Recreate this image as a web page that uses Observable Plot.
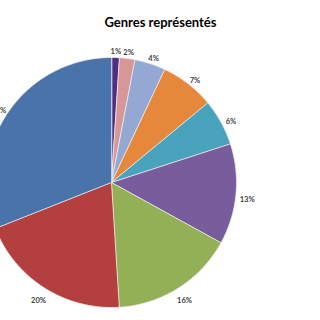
<!DOCTYPE html>
<html>
<head>
<meta charset="utf-8">
<script src="https://cdn.jsdelivr.net/npm/d3@7"></script>
<script src="https://cdn.jsdelivr.net/npm/@observablehq/plot@0.6"></script>
<style>
  html, body { margin: 0; padding: 0; background: #fff; }
  #chart svg { display: block; }
</style>
</head>
<body>
<div id="chart"></div>
<script>
// Data (clockwise from 12 o'clock)
const genres = ["G1", "G2", "G3", "G4", "G5", "G6", "G7", "G8", "G9"];
const shares = [1, 2, 4, 7, 6, 13, 16, 20, 31];
const labels = ["1%", "2%", "4%", "7%", "6%", "13%", "16%", "20%", "31%"];
const colors = ["#4f2d80", "#d69796", "#93a9d4", "#e6883c", "#4aa3bc", "#785c9c", "#93b056", "#b3403e", "#4a73aa"];
const title = "Genres représentés";

const W = 320, H = 320;
const cx = 111, cy = 182, R = 125;

const pie = d3.pie().sort(null).value(d => d)(shares);
const polys = [];
pie.forEach((p, i) => {
  polys.push({g: genres[i], x: 0, y: 0});
  const n = Math.max(4, Math.ceil((p.endAngle - p.startAngle) / 0.01));
  for (let k = 0; k <= n; k++) {
    const a = p.startAngle + (p.endAngle - p.startAngle) * k / n;
    polys.push({g: genres[i], x: Math.sin(a), y: Math.cos(a)});
  }
});
const lab = pie.map((p, i) => {
  const a = (p.startAngle + p.endAngle) / 2;
  return {t: labels[i], x: 1.09 * Math.sin(a), y: 1.08 * Math.cos(a) - 0.035};
});

const chart = Plot.plot({
  width: W, height: H,
  margin: 0,
  x: {domain: [-cx / R, (W - cx) / R], range: [0, W], axis: null},
  y: {domain: [-(H - cy) / R, cy / R], range: [H, 0], axis: null},
  color: {domain: genres, range: colors},
  style: {fontFamily: "Lato, sans-serif", background: "#fff"},
  marks: [
    Plot.line(polys, {x: "x", y: "y", z: "g", fill: "g", stroke: "#eeeeee", strokeWidth: 0.8, curve: "linear-closed"}),
    Plot.text(lab, {x: "x", y: "y", text: "t", fontSize: 7.5, fontWeight: "bold", fill: "#404040"}),
    Plot.text([title], {frameAnchor: "top", dy: 17, fontSize: 13, fontWeight: "bold", fill: "#000"})
  ]
});
document.getElementById("chart").appendChild(chart);
</script>
</body>
</html>
